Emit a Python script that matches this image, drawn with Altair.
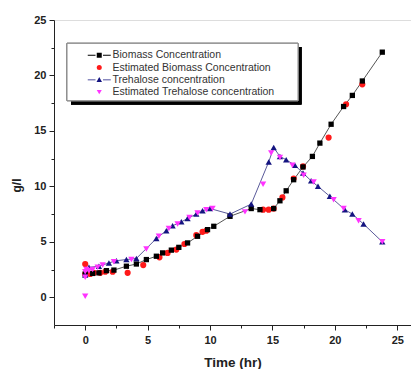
import altair as alt
import pandas as pd

# ---- data ----
biomass_t = [0, 0.6, 1.1, 1.7, 2.3, 3.3, 4.1, 4.9, 5.7, 6.2, 6.9, 7.5, 8.2, 9.0, 9.8, 10.3,
             11.6, 13.3, 14.0, 15.1, 15.6, 16.1, 16.7, 17.45, 18.2, 18.8, 19.7, 20.7, 21.4, 22.2, 23.8]
biomass_v = [2.1, 2.15, 2.2, 2.4, 2.45, 2.8, 3.0, 3.4, 3.7, 4.0, 4.25, 4.5, 4.9, 5.5, 6.1, 6.4,
             7.3, 8.0, 7.9, 8.0, 8.7, 9.6, 10.6, 11.75, 12.7, 13.9, 15.6, 17.2, 18.2, 19.5, 22.1]

est_biomass_t = [0, 0, 0.4, 0.7, 1.2, 1.6, 2.2, 3.4, 4.65, 5.95, 6.6, 7.3, 7.95, 8.9, 9.4, 9.7,
                 14.25, 14.7, 15.1, 15.8, 16.7, 17.45, 19.5, 20.9, 22.2]
est_biomass_v = [3.0, 2.1, 2.1, 2.2, 2.2, 2.3, 2.3, 2.2, 2.9, 3.6, 4.0, 4.3, 4.8, 5.6, 5.9, 6.0,
                 7.9, 7.9, 8.0, 9.0, 10.7, 11.8, 14.4, 17.4, 19.2]

treh_t = [0, 0.3, 1.1, 1.9, 2.5, 3.3, 4.1, 5.7, 6.5, 7.0, 7.7, 8.2, 8.9, 9.4, 10.0, 11.6, 13.3,
          14.7, 15.1, 15.6, 16.1, 16.8, 17.45, 18.1, 18.65, 19.6, 20.8, 21.4, 22.3, 23.8]
treh_v = [2.0, 2.7, 2.8, 3.1, 3.3, 3.4, 3.5, 5.3, 6.0, 6.45, 6.8, 7.1, 7.5, 7.8, 8.0, 7.5, 8.4,
          12.2, 13.5, 12.7, 12.4, 11.9, 11.2, 10.5, 10.0, 9.1, 7.9, 7.5, 6.6, 5.0]

est_treh_t = [0, 0, 0, 0.1, 0.3, 0.6, 1.0, 1.4, 2.3, 3.7, 4.9, 5.9, 6.7, 7.4, 8.35, 9.0, 9.7, 10.2,
              12.8, 14.25, 14.9, 15.6, 16.6, 17.5, 18.3, 19.9, 20.7, 21.9, 23.8]
est_treh_v = [0.1, 1.8, 2.3, 2.5, 2.4, 2.5, 2.7, 2.9, 3.2, 3.4, 4.35, 5.5, 6.2, 6.6, 7.2, 7.6, 7.9, 8.0,
              7.7, 10.2, 13.0, 12.6, 11.9, 11.0, 10.4, 8.8, 8.0, 6.9, 5.0]

series_names = ["Biomass Concentration", "Estimated Biomass Concentration",
                "Trehalose concentration", "Estimated Trehalose concentration"]
series_colors = ["#000000", "#ff1a1a", "#141480", "#ff33ff"]

x_ticks = [-2.5, 0, 2.5, 5, 7.5, 10, 12.5, 15, 17.5, 20, 22.5, 25]
y_ticks = [0, 2.5, 5, 7.5, 10, 12.5, 15, 17.5, 20, 22.5, 25]

# ---- tables ----
bio = pd.DataFrame({"t": biomass_t, "v": biomass_v})
ebio = pd.DataFrame({"t": est_biomass_t, "v": est_biomass_v})
tre = pd.DataFrame({"t": treh_t, "v": treh_v})
etre = pd.DataFrame({"t": est_treh_t, "v": est_treh_v})
leg = pd.DataFrame({"series": series_names})

FONT = "Liberation Sans"

xs = alt.Scale(domain=[-2.5, 26.1], nice=False, zero=False)
ys = alt.Scale(domain=[-2.5, 25], nice=False, zero=False)

tick_cond = {"condition": {"test": "datum.value % 5 === 0", "value": 5}, "value": 3}
lab_expr = "datum.value % 5 === 0 ? datum.label : ''"

x_enc = alt.X("t:Q", scale=xs, axis=alt.Axis(
    title="Time (hr)", values=x_ticks, labelExpr=lab_expr, tickSize=tick_cond,
    grid=False, domainColor="#222", tickColor="#222", labelFont=FONT, labelFontSize=11,
    labelFontWeight="bold", labelColor="#222", labelPadding=4, labelFlush=False,
    titleFont=FONT, titleFontSize=13.5, titleFontWeight="bold", titleColor="#222",
    titlePadding=10))
y_enc = alt.Y("v:Q", scale=ys, axis=alt.Axis(
    title="g/l", values=y_ticks, labelExpr=lab_expr, tickSize=tick_cond,
    grid=False, domainColor="#222", tickColor="#222", labelFont=FONT, labelFontSize=11,
    labelFontWeight="bold", labelColor="#222", labelPadding=3, labelFlush=False,
    titleFont=FONT, titleFontSize=12, titleFontWeight="bold", titleColor="#222",
    titleX=-31, titleY=165))

# legend symbol paths (with line dashes for measured series)
sq_line = "M-4.6,-0.16H-1.5V0.16H-4.6Z M-1,-1H1V1H-1Z M1.5,-0.16H4.6V0.16H1.5Z"
circ = "circle"
tri_line = "M-4.6,-0.16H-1.5V0.16H-4.6Z M0,-1.1L1.1,0.9H-1.1Z M1.5,-0.16H4.6V0.16H1.5Z"
tri_down = "triangle-down"


def make_legend():
    return alt.Legend(title=None, orient="none", legendX=13, legendY=25, padding=5,
                      symbolSize=25, symbolOffset=22, labelOffset=8, rowPadding=1.3,
                      labelLimit=300, labelFont=FONT, labelFontSize=10.5, labelColor="#333",
                      symbolStrokeWidth=0)


shadow = alt.Chart(leg).mark_rect(color="#000").encode(
    x=alt.value(17), x2=alt.value(247.5), y=alt.value(27), y2=alt.value(84.5))
legend_pts = alt.Chart(leg).mark_point(filled=True, opacity=1, size=25).encode(
    x=alt.value(60), y=alt.value(50),
    shape=alt.Shape("series:N", scale=alt.Scale(domain=series_names,
                                                  range=[sq_line, circ, tri_line, tri_down]),
                    legend=make_legend()),
    color=alt.Color("series:N", scale=alt.Scale(domain=series_names, range=series_colors),
                    legend=make_legend()))
box = alt.Chart(leg).mark_rect(fill="white", stroke="#888", strokeWidth=1).encode(
    x=alt.value(13), x2=alt.value(244), y=alt.value(23.3), y2=alt.value(80.7))

bio_line = alt.Chart(bio).mark_line(color="#555", strokeWidth=1).encode(x=x_enc, y=y_enc)
tre_line = alt.Chart(tre).mark_line(color="#5a5a9a", strokeWidth=1).encode(x=x_enc, y=y_enc)

ebio_pts = alt.Chart(ebio).mark_point(filled=True, opacity=1, shape="circle", size=38,
                                      color=series_colors[1]).encode(x=x_enc, y=y_enc)
bio_pts = alt.Chart(bio).mark_point(filled=True, opacity=1, shape="square", size=28,
                                    color=series_colors[0]).encode(x=x_enc, y=y_enc)
tre_pts = alt.Chart(tre).mark_point(filled=True, opacity=1, shape="triangle-up", size=40,
                                    color=series_colors[2]).encode(x=x_enc, y=y_enc)
etre_pts = alt.Chart(etre).mark_point(filled=True, opacity=1, shape="triangle-down", size=40,
                                      color=series_colors[3]).encode(x=x_enc, y=y_enc)

chart = alt.layer(
    legend_pts, shadow, box, bio_line, tre_line, ebio_pts, bio_pts, tre_pts, etre_pts
).properties(
    width=357, height=305,
    autosize=alt.AutoSizeParams(type="none"),
    padding={"left": 46, "top": 12, "right": 0, "bottom": 44},
).configure_view(stroke=None).configure(background="white")

chart.save("out.html", embed_options={"renderer": "svg", "actions": False})
